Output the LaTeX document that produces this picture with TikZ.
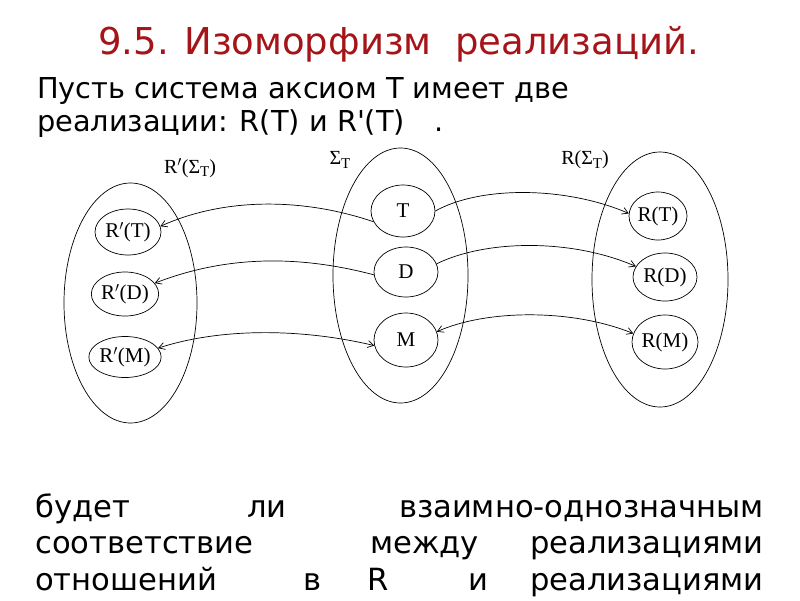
\documentclass[tikz,border=0pt]{standalone}
\usepackage{fontspec}
\setmainfont{DejaVu Sans}
\newfontfamily\diagfont{Liberation Serif}
\usetikzlibrary{shapes.geometric,arrows.meta}
\definecolor{titlered}{RGB}{165,20,25}
\begin{document}
\begin{tikzpicture}[x=1pt,y=-1pt,
  big/.style={draw,ellipse,inner sep=0pt,line width=0.7pt},
  small/.style={draw,ellipse,inner sep=0pt,line width=0.7pt,font=\diagfont\fontsize{21}{21}\selectfont},
  lbl/.style={inner sep=0pt,font=\diagfont\fontsize{20}{20}\selectfont},
  body/.style={anchor=base west,inner sep=0pt,font=\fontsize{30.6}{30.6}\selectfont},
  bodytop/.style={anchor=base west,inner sep=0pt,font=\fontsize{28.8}{28.8}\selectfont},
  arr/.style={line width=0.7pt,-{Straight Barb[length=6pt,width=7pt]}},
  arrb/.style={line width=0.7pt,{Straight Barb[length=6pt,width=7pt]}-{Straight Barb[length=6pt,width=7pt]}}]
\useasboundingbox (0,0) rectangle (800,600);
% texts
\node[anchor=base west,inner sep=0pt,text=titlered,font=\fontsize{37}{37}\selectfont] (title) at (98,54) {9.5. Изоморфизм\ \ реализаций.};
\node[bodytop] (l1) at (37,98) {Пусть система аксиом Т имеет две};
\node[bodytop] (l2) at (37,131) {реализации: R(T) и R\textquotesingle(T)};
\node[bodytop] (l2dot) at (434,131) {.};
\node[body] (b11) at (35,517) {будет};
\node[body] (b12) at (247,517) {ли};
\node[body,anchor=base east] (b13) at (764,517) {взаимно-однозначным};
\node[body] (b21) at (35,553) {соответствие};
\node[body] (b22) at (370,553) {между};
\node[body,anchor=base east] (b23) at (764,553) {реализациями};
\node[body] (b31) at (35,590) {отношений};
\node[body] (b32) at (303,590) {в};
\node[body] (b33) at (367,590) {R};
\node[body] (b34) at (468,590) {и};
\node[body,anchor=base east] (b35) at (764,590) {реализациями};
% big ellipses
\node[big,minimum width=133pt,minimum height=240pt] (Lset) at (130.5,303) {};
\node[big,minimum width=135pt,minimum height=255pt] (Mset) at (400.5,275.5) {};
\node[big,minimum width=136pt,minimum height=255pt] (Rset) at (660,279.5) {};
% set labels
\node[lbl] (Llab) at (190,168) {R$'$(Σ\raisebox{-0.35ex}{\fontsize{15}{15}\selectfont T})};
\node[lbl] (Mlab) at (340,160) {Σ\raisebox{-0.35ex}{\fontsize{15}{15}\selectfont T}};
\node[lbl] (Rlab) at (585,160) {R(Σ\raisebox{-0.35ex}{\fontsize{15}{15}\selectfont T})};
% small ellipses
\node[small,minimum width=66pt,minimum height=46pt] (RpT) at (128,232) {R$'$(T)};
\node[small,minimum width=64pt,minimum height=44pt] (RpD) at (125,294) {R$'$(D)};
\node[small,minimum width=64pt,minimum height=41pt] (RpM) at (125,357) {R$'$(M)};
\node[small,minimum width=64pt,minimum height=52pt] (T) at (403,211) {T};
\node[small,minimum width=64pt,minimum height=50pt] (D) at (406,272) {D};
\node[small,minimum width=64pt,minimum height=54pt] (M) at (406,340) {M};
\node[small,minimum width=58pt,minimum height=48pt] (RT) at (658,216) {R(T)};
\node[small,minimum width=64pt,minimum height=48pt] (RD) at (665,277) {R(D)};
\node[small,minimum width=64pt,minimum height=54pt] (RM) at (665,342) {R(M)};
% connectors
\draw[arr] (T.east) .. controls (480,186) and (565,186) .. (RT.175);
\draw[arr] (T.200) .. controls (310,200) and (230,195) .. (RpT.10);
\draw[arr] (D.15) .. controls (485,240) and (570,238) .. (RD.160);
\draw[arr] (D.185) .. controls (310,258) and (235,252) .. (RpD.20);
\draw[arrb] (RpM.15) .. controls (220,328) and (300,328) .. (M.190);
\draw[arrb] (M.15) .. controls (485,310) and (570,308) .. (RM.165);
\end{tikzpicture}
\end{document}
